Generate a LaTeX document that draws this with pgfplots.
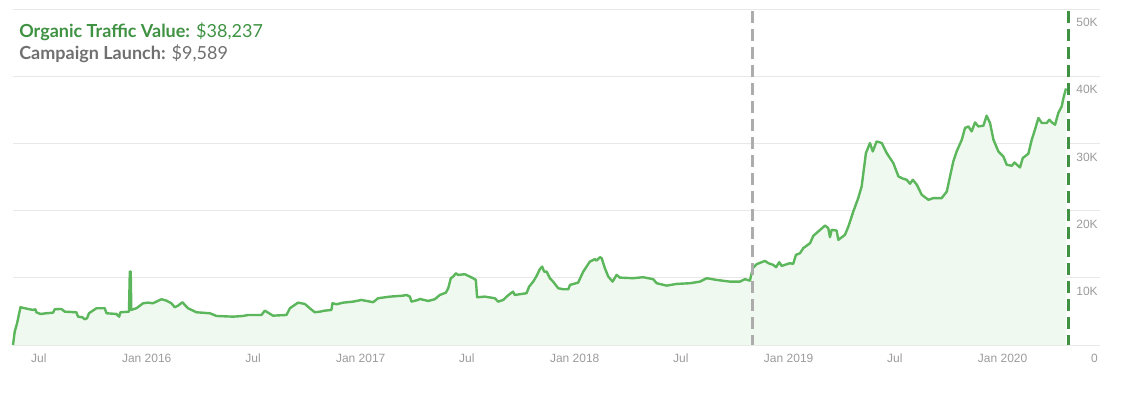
\documentclass[border=0pt]{standalone}
\usepackage{pgfplots}
\usepackage{pgfplotstable}
\usepackage{fontspec}
\pgfplotsset{compat=1.18}
\setmainfont{Lato}
\newfontfamily\tickfont{Liberation Sans}

\definecolor{lineGreen}{RGB}{92,182,92}
\definecolor{fillGreen}{RGB}{240,249,239}
\definecolor{darkGreen}{RGB}{62,146,66}
\definecolor{titleGray}{RGB}{112,112,112}
\definecolor{launchGray}{RGB}{172,172,172}
\definecolor{gridGray}{RGB}{232,232,232}
\definecolor{tickGray}{RGB}{155,155,155}
\definecolor{tickMark}{RGB}{205,205,205}

% organic traffic value, x in decimal years, y in dollars
\pgfplotstableread{
x y
2015.375 0
2015.383 1985
2015.394 3239
2015.410 5627
2015.430 5477
2015.468 5224
2015.480 5328
2015.484 4880
2015.503 4627
2015.531 4731
2015.562 4821
2015.570 5328
2015.601 5373
2015.617 4970
2015.671 4880
2015.679 4224
2015.699 4134
2015.710 3836
2015.721 3985
2015.730 4731
2015.741 4970
2015.765 5477
2015.804 5477
2015.812 4731
2015.858 4627
2015.871 4224
2015.877 4880
2015.917 4970
2015.921 10940
2015.925 10940
2015.928 5224
2015.936 5328
2015.952 5477
2015.983 6224
2016.006 6313
2016.029 6224
2016.045 6463
2016.069 6821
2016.092 6612
2016.115 6224
2016.131 5627
2016.146 5866
2016.167 6373
2016.178 5970
2016.193 5477
2016.232 4880
2016.295 4731
2016.326 4328
2016.403 4224
2016.450 4328
2016.474 4478
2016.536 4478
2016.552 5119
2016.567 4821
2016.590 4373
2016.653 4478
2016.669 5477
2016.707 6313
2016.739 6119
2016.762 5477
2016.785 4880
2016.809 4970
2016.832 5119
2016.863 5224
2016.868 6224
2016.887 6074
2016.918 6313
2016.964 6463
2017.004 6716
2017.058 6373
2017.081 6970
2017.136 7209
2017.198 7358
2017.214 7463
2017.230 7209
2017.237 6463
2017.268 6716
2017.276 6866
2017.315 6567
2017.346 6821
2017.370 7463
2017.398 7806
2017.409 8462
2017.421 9955
2017.432 10194
2017.445 10701
2017.455 10448
2017.487 10552
2017.525 9955
2017.538 9701
2017.544 7119
2017.580 7209
2017.627 6970
2017.642 6463
2017.666 6716
2017.682 7209
2017.697 7612
2017.712 7955
2017.720 7463
2017.775 7716
2017.787 8701
2017.806 9448
2017.822 10298
2017.837 11298
2017.848 11686
2017.857 10940
2017.869 10940
2017.884 9955
2017.899 9448
2017.923 8462
2017.946 8313
2017.970 8313
2017.978 8955
2018.016 9298
2018.040 10940
2018.071 12433
2018.094 12791
2018.102 12582
2018.118 13089
2018.126 12940
2018.141 11448
2018.157 10194
2018.177 9448
2018.196 10448
2018.211 10045
2018.273 9955
2018.320 10104
2018.367 9806
2018.383 9209
2018.430 8851
2018.476 9104
2018.539 9209
2018.585 9448
2018.617 9955
2018.663 9701
2018.725 9448
2018.772 9448
2018.795 9806
2018.819 9597
2018.832 11448
2018.850 12045
2018.889 12537
2018.905 12194
2018.928 11940
2018.941 11597
2018.956 12343
2018.967 11791
2019.006 12194
2019.021 12089
2019.034 13433
2019.053 13686
2019.068 14433
2019.100 15179
2019.115 16268
2019.147 17164
2019.170 17806
2019.185 17418
2019.193 16074
2019.201 17164
2019.224 17059
2019.232 15671
2019.263 16418
2019.279 17656
2019.302 19895
2019.325 21895
2019.341 23626
2019.361 28611
2019.380 30104
2019.393 28850
2019.411 30343
2019.435 30104
2019.458 28611
2019.489 27119
2019.513 25119
2019.536 24776
2019.552 24626
2019.567 24029
2019.580 24626
2019.599 23880
2019.622 22388
2019.653 21641
2019.676 21895
2019.715 21895
2019.739 22880
2019.754 25119
2019.769 27313
2019.785 28850
2019.809 30596
2019.824 32342
2019.840 32581
2019.855 31835
2019.871 33178
2019.886 32581
2019.910 32686
2019.925 34178
2019.941 33089
2019.957 30596
2019.980 28850
2020.003 28104
2020.019 26865
2020.043 26716
2020.055 27208
2020.081 26462
2020.094 27865
2020.120 28507
2020.136 30596
2020.151 32089
2020.167 33835
2020.183 33089
2020.206 33089
2020.218 33581
2020.230 33178
2020.245 32835
2020.260 34581
2020.276 35566
2020.284 36820
2020.296 38237
}\trafficdata

\begin{document}
\begin{tikzpicture}
\useasboundingbox (-9.75pt,-41.25pt) rectangle (832.5pt,258.75pt);
\begin{axis}[
  at={(0,0)}, anchor=south west,
  scale only axis, width=815.25pt, height=251.6pt,
  xmin=2015.375, xmax=2020.455,
  ymin=0, ymax=50000,
  axis line style={draw=none},
  scaled y ticks=false, scaled x ticks=false,
  xtick={2015.496,2016,2016.497,2017,2017.496,2018,2018.496,2019,2019.496,2020},
  xticklabels={Jul,Jan 2016,Jul,Jan 2017,Jul,Jan 2018,Jul,Jan 2019,Jul,Jan 2020},
  xtick pos=bottom, tick align=inside,
  xtick style={draw=tickMark, line width=0.75pt},
  major tick length=5pt,
  ytick={0,10000,20000,30000,40000,50000},
  yticklabels={0,10K,20K,30K,40K,50K},
  yticklabel pos=right, ytick style={draw=none},
  ymajorgrids, grid style={draw=gridGray, line width=0.75pt},
  ticklabel style={font=\tickfont\fontsize{9}{10}\selectfont, text=tickGray},
  xticklabel style={anchor=base, yshift=-13pt},
  yticklabel style={anchor=base east, inner xsep=0pt, xshift=-1.5pt, yshift=-13pt},
  clip=false,
]
\addplot[draw=none, fill=fillGreen] table[x=x, y=y] {\trafficdata} \closedcycle;
\addplot[draw=lineGreen, line width=1.8pt, line join=round] table[x=x, y=y] {\trafficdata};
\addplot[draw=launchGray, line width=2.25pt, dash pattern=on 9pt off 4.5pt]
  coordinates {(2018.832,49750) (2018.832,0)};
\addplot[draw=darkGreen, line width=2.25pt, dash pattern=on 9pt off 4.5pt]
  coordinates {(2020.306,49750) (2020.306,0)};
\end{axis}
\node[anchor=base west, inner sep=0pt, text=darkGreen, font=\fontsize{13.5}{15}\selectfont]
  at (4.5pt,230.8pt) {\textbf{Organic Traffic Value:} \$38,237};
\node[anchor=base west, inner sep=0pt, text=titleGray, font=\fontsize{13.5}{15}\selectfont]
  at (4.5pt,213.75pt) {\textbf{Campaign Launch:} \$9,589};
\end{tikzpicture}
\end{document}
